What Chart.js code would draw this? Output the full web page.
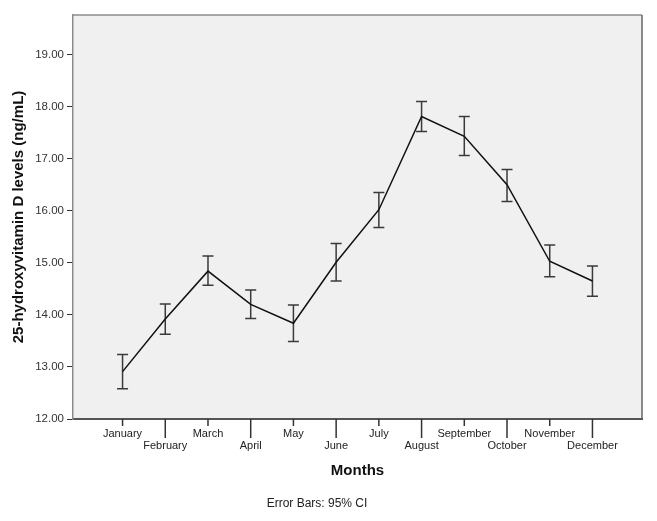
<!DOCTYPE html>
<html>
<head>
<meta charset="utf-8">
<script src="https://cdn.jsdelivr.net/npm/chart.js@4/dist/chart.umd.min.js"></script>
<style>
  body { margin: 0; background: #fff; }
  #wrap { width: 657px; height: 521px; }
</style>
</head>
<body>
<div id="wrap"><canvas id="chart" width="657" height="521"></canvas></div>
<script>
const months = ["January", "February", "March", "April", "May", "June",
  "July", "August", "September", "October", "November", "December"];
const means = [12.91, 13.92, 14.84, 14.20, 13.84, 15.01, 16.02, 17.81, 17.43, 16.50, 15.03, 14.65];
const ciLower = [12.58, 13.63, 14.57, 13.93, 13.49, 14.65, 15.68, 17.52, 17.06, 16.18, 14.73, 14.36];
const ciUpper = [13.24, 14.21, 15.13, 14.48, 14.19, 15.37, 16.35, 18.10, 17.81, 16.79, 15.34, 14.94];
const yTicks = [12, 13, 14, 15, 16, 17, 18, 19];

const FONT = "'Liberation Sans', Arial, sans-serif";

/* ===== background + frame + error bars + x ticks ===== */
const spssLook = {
  id: "spssLook",
  beforeDraw(chart) {
    const { ctx, chartArea: a } = chart;
    ctx.save();
    ctx.fillStyle = "#f0f0f0";
    ctx.fillRect(a.left, a.top, a.right - a.left, a.bottom - a.top);
    ctx.restore();
  },
  beforeDatasetsDraw(chart) {
    const { ctx, scales: { x, y } } = chart;
    ctx.save();
    ctx.strokeStyle = "#3a3a3a";
    ctx.lineWidth = 1.5;
    means.forEach((m, i) => {
      const px = x.getPixelForValue(i);
      const top = y.getPixelForValue(ciUpper[i]);
      const bot = y.getPixelForValue(ciLower[i]);
      ctx.beginPath();
      ctx.moveTo(px, top); ctx.lineTo(px, bot);
      ctx.moveTo(px - 5.5, top); ctx.lineTo(px + 5.5, top);
      ctx.moveTo(px - 5.5, bot); ctx.lineTo(px + 5.5, bot);
      ctx.stroke();
    });
    ctx.restore();
  },
  afterDraw(chart) {
    const { ctx, chartArea: a, scales: { x } } = chart;
    ctx.save();
    // top and right frame
    ctx.strokeStyle = "#8c8c8c";
    ctx.lineWidth = 1.5;
    ctx.beginPath();
    ctx.moveTo(a.left, a.top); ctx.lineTo(a.right, a.top);
    ctx.stroke();
    ctx.strokeStyle = "#666";
    ctx.beginPath();
    ctx.moveTo(a.right, a.top); ctx.lineTo(a.right, a.bottom);
    ctx.stroke();
    // alternating tick marks on the month axis
    ctx.strokeStyle = "#333";
    ctx.lineWidth = 1.5;
    months.forEach((m, i) => {
      const px = x.getPixelForValue(i);
      ctx.beginPath();
      ctx.moveTo(px, a.bottom);
      ctx.lineTo(px, a.bottom + (i % 2 === 0 ? 7 : 19));
      ctx.stroke();
    });
    // footnote
    ctx.fillStyle = "#222";
    ctx.font = "12px " + FONT;
    ctx.textAlign = "center";
    ctx.textBaseline = "middle";
    ctx.fillText("Error Bars: 95% CI", 317, 504);
    ctx.restore();
  }
};

new Chart(document.getElementById("chart"), {
  type: "line",
  data: {
    datasets: [{
      data: means.map((v, i) => ({ x: i, y: v })),
      borderColor: "#111",
      borderWidth: 1.5,
      pointRadius: 0,
      tension: 0,
      fill: false
    }]
  },
  options: {
    responsive: false,
    animation: false,
    layout: { padding: { top: 15, right: 15, left: 0, bottom: 0 } },
    plugins: { legend: { display: false }, tooltip: { enabled: false } },
    scales: {
      x: {
        type: "linear",
        min: -1.16,
        max: 12.16,
        afterBuildTicks: s => { s.ticks = months.map((m, i) => ({ value: i })); },
        afterFit: s => { s.height = 102; },
        grid: { display: false, drawTicks: false },
        border: { display: true, color: "#555", width: 2 },
        ticks: {
          autoSkip: false,
          maxRotation: 0,
          padding: 9,
          color: "#222",
          font: { family: FONT, size: 11, lineHeight: 1.1 },
          callback: v => (v % 2 === 0 ? months[v] : ["", months[v]])
        },
        title: {
          display: true,
          text: "Months",
          color: "#111",
          font: { family: FONT, size: 15, weight: "bold" },
          padding: { top: 0, bottom: 41 }
        }
      },
      y: {
        min: 12,
        max: 19.76,
        afterBuildTicks: s => { s.ticks = yTicks.map(v => ({ value: v })); },
        afterFit: s => { s.width = 73; },
        grid: { drawOnChartArea: false, drawTicks: true, tickLength: 6, color: "#333" },
        border: { display: true, color: "#8c8c8c", width: 1.5 },
        ticks: {
          padding: 3,
          color: "#333",
          font: { family: FONT, size: 11.5 },
          callback: v => v.toFixed(2)
        },
        title: {
          display: true,
          text: "25-hydroxyvitamin D levels (ng/mL)",
          color: "#111",
          font: { family: FONT, size: 15, weight: "bold" },
          padding: { top: 10, bottom: 0 }
        }
      }
    }
  },
  plugins: [spssLook]
});
</script>
</body>
</html>
